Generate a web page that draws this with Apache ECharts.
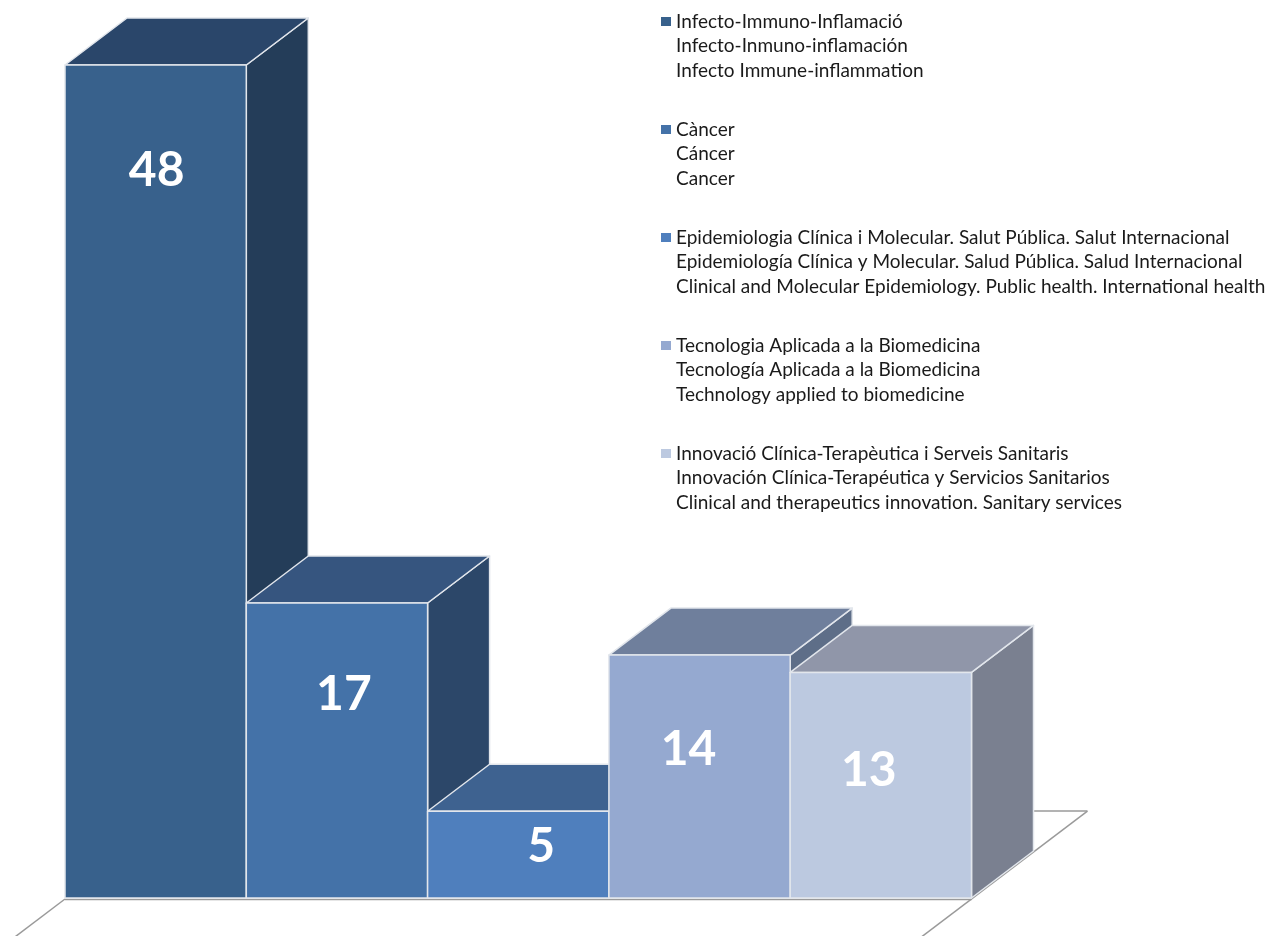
<!DOCTYPE html>
<html><head><meta charset="utf-8">
<style>html,body{margin:0;padding:0;background:#fff}#c{width:1269px;height:936px}</style>
<script src="https://cdn.jsdelivr.net/npm/echarts@6/dist/echarts.min.js"></script>
</head><body><div id="c"></div>
<script>
const categories = [
  "Infecto-Immuno-Inflamació\nInfecto-Inmuno-inflamación\nInfecto Immune-inflammation",
  "Càncer\nCáncer\nCancer",
  "Epidemiologia Clínica i Molecular. Salut Pública. Salut Internacional\nEpidemiología Clínica y Molecular. Salud Pública. Salud Internacional\nClinical and Molecular Epidemiology. Public health. International health",
  "Tecnologia Aplicada a la Biomedicina\nTecnología Aplicada a la Biomedicina\nTechnology applied to biomedicine",
  "Innovació Clínica-Terapèutica i Serveis Sanitaris\nInnovación Clínica-Terapéutica y Servicios Sanitarios\nClinical and therapeutics innovation. Sanitary services"
];
const values = [48, 17, 5, 14, 13];
const frontColors = ["#38618c", "#4472a8", "#4f7fbd", "#95a9d0", "#bcc9e0"];
const topColors = ["#2a466a", "#36557f", "#3e6290", "#6f7f9c", "#9096a9"];
const sideColors = ["#243d59", "#2c4769", "#31507a", "#5e6e88", "#7a8090"];
const labelDrops = [105.5, 91.5, 35.5, 94.5, 98];
const labelShifts = [1, 7, 23, -11, -12];

const DX = 62, DY = -47, EDGE = "#e2e6ec";

function faces(params, api) {
  const i = params.seriesIndex - 1;
  const c = api.coord([i, api.value(1)]);
  const b = api.coord([i, 0]);
  const w = api.size([1, 0])[0];
  const l = c[0] - w / 2, r = c[0] + w / 2, t = c[1], y0 = b[1];
  const poly = (pts, fill) => ({
    type: "polygon",
    shape: { points: pts },
    style: { fill, stroke: EDGE, lineWidth: 1.5, lineJoin: "round" }
  });
  return {
    type: "group",
    children: [
      poly([[r, t], [r + DX, t + DY], [r + DX, y0 + DY], [r, y0]], sideColors[i]),
      poly([[l, t], [l + DX, t + DY], [r + DX, t + DY], [r, t]], topColors[i]),
      poly([[l, t], [r, t], [r, y0], [l, y0]], frontColors[i]),
      {
        type: "text",
        x: c[0] + labelShifts[i],
        y: t + labelDrops[i],
        style: {
          text: String(values[i]), fill: "#fff",
          font: "700 48px Lato", align: "center", verticalAlign: "middle"
        }
      }
    ]
  };
}

function floor(params, api) {
  const a = api.coord([0, 0]);
  const e = api.coord([categories.length - 1, 0]);
  const w = api.size([1, 0])[0];
  const l = a[0] - w / 2, r = e[0] + w / 2, y = a[1] + 1;
  const line = (x1, y1, x2, y2) => ({
    type: "line",
    shape: { x1, y1, x2, y2 },
    style: { stroke: "#9a9a9a", lineWidth: 1.5 }
  });
  const fx = 0.81, bx = 0.87;
  return {
    type: "group",
    children: [
      line(l, y + 0.5, r, y + 0.5),
      line(l, y, l + fx * -DX, y + fx * -DY),
      line(r + fx * -DX, y + fx * -DY, r + DX + bx * DX, y + DY + bx * DY),
      line(r + DX, y + DY + bx * DY, r + DX + bx * DX, y + DY + bx * DY)
    ]
  };
}

const series = [{
  type: "custom", name: "floor", renderItem: floor, silent: true,
  clip: false, data: [[0, 0]], encode: { x: 0, y: 1 }, z: 1
}];
categories.forEach((name, i) => series.push({
  type: "custom", name, renderItem: faces, clip: false, silent: true,
  itemStyle: { color: frontColors[i] },
  data: [[i, values[i]]], encode: { x: 0, y: 1 }, z: 2
}));

const chart = echarts.init(document.getElementById("c"), null, { renderer: "canvas" });
chart.setOption({
  animation: false,
  backgroundColor: "#fff",
  grid: { left: 65, right: 297.5, top: 65, bottom: 38 },
  xAxis: { type: "category", data: categories, show: false },
  yAxis: { type: "value", min: 0, max: 48, show: false },
  legend: {
    orient: "vertical", left: 661, top: 9, padding: 0,
    itemWidth: 10, itemHeight: 74, itemGap: 34, selectedMode: false,
    icon: "path://M0 0L10 0M0 8H10V17H0ZM0 74L10 74",
    align: "left",
    data: categories,
    textStyle: { fontFamily: "Lato", fontSize: 19, lineHeight: 24.5, color: "#1a1a1a" }
  },
  series
});
</script></body></html>
